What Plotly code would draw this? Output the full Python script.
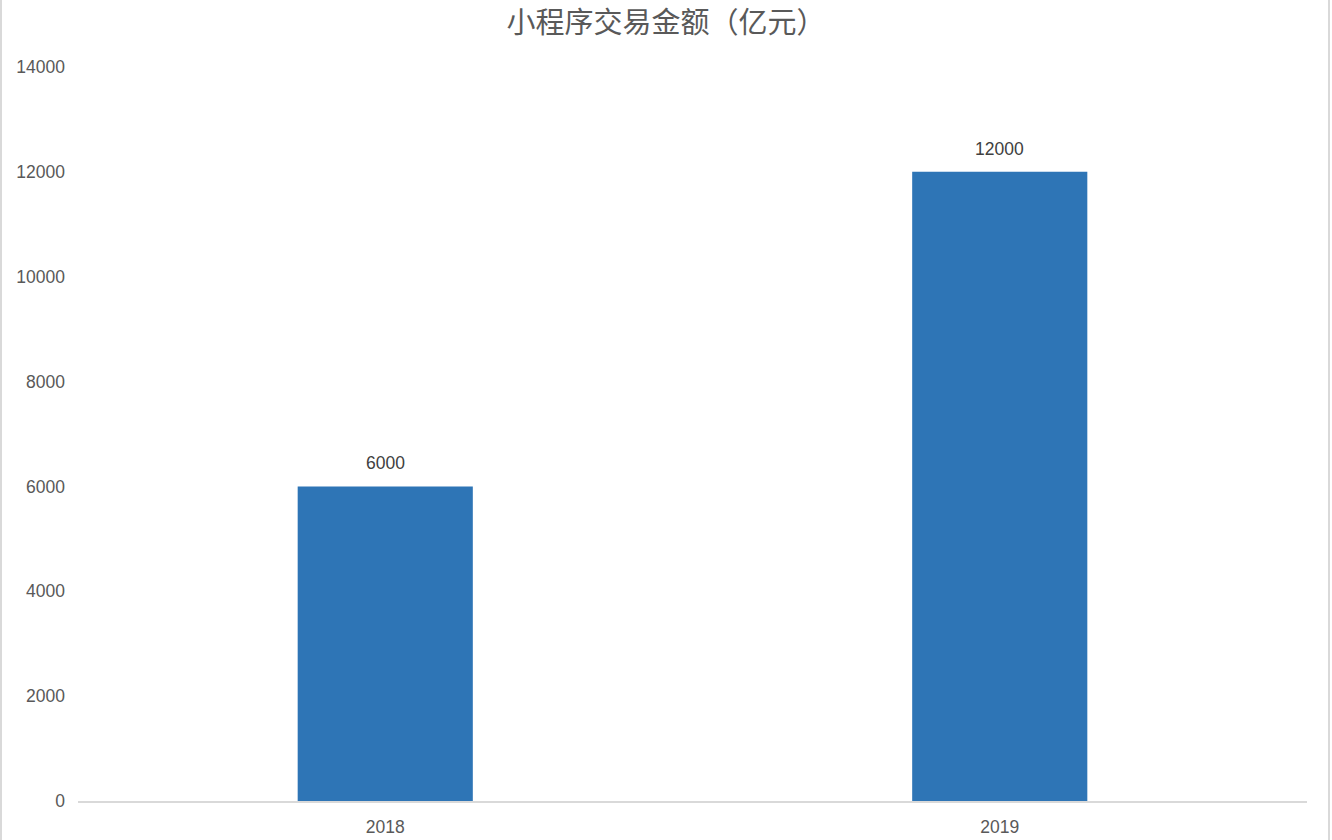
import plotly.graph_objects as go

years = ["2018", "2019"]
amounts = [6000, 12000]
y_ticks = [0, 2000, 4000, 6000, 8000, 10000, 12000, 14000]

grey = "#595959"
bar_blue = "#2E75B6"
num_font = "Liberation Sans, Arial"

fig = go.Figure(data=[go.Bar(
    x=years,
    y=amounts,
    marker=dict(color=bar_blue, line=dict(width=0)),
)])

# value labels sit a bit above each bar, like the Excel original
# (category axis -> annotation x is the category index)
for i, val in enumerate(amounts):
    fig.add_annotation(x=i, y=val, text=str(val), showarrow=False,
                       yanchor="middle", yshift=23,
                       font=dict(family=num_font, size=17.5, color="#404040"))

fig.update_layout(
    width=1332,
    height=840,
    paper_bgcolor="white",
    plot_bgcolor="white",
    bargap=0.715,
    showlegend=False,
    margin=dict(l=78, r=25, t=67, b=39),
    title=dict(
        text="小程序交易金额（亿元）",
        x=0.5,
        xanchor="center",
        y=0.973,
        yanchor="middle",
        font=dict(family="Noto Sans CJK SC", size=29, color=grey),
    ),
    xaxis=dict(
        type="category",
        automargin=False,
        showline=True,
        linecolor="#D9D9D9",
        linewidth=2,
        ticks="",
        showgrid=False,
        ticklabelstandoff=9,
        tickfont=dict(family=num_font, size=17.5, color=grey),
    ),
    yaxis=dict(
        range=[0, 14000],
        automargin=False,
        tickvals=y_ticks,
        ticktext=[str(t) for t in y_ticks],
        showgrid=False,
        zeroline=False,
        showline=False,
        ticks="",
        ticklabelstandoff=12,
        tickfont=dict(family=num_font, size=17.5, color=grey),
    ),
)

# thin grey frame at the left and right edges of the chart area
fig.add_shape(type="line", xref="paper", yref="paper", x0=-77/1229, x1=-77/1229, y0=-1, y1=2,
              line=dict(color="#D9D9D9", width=2))
fig.add_shape(type="line", xref="paper", yref="paper", x0=1+22/1229, x1=1+22/1229, y0=-1, y1=2,
              line=dict(color="#D9D9D9", width=2))

fig.write_html("out.html", config={"displayModeBar": False},
               post_script="document.body.style.margin='0';")
